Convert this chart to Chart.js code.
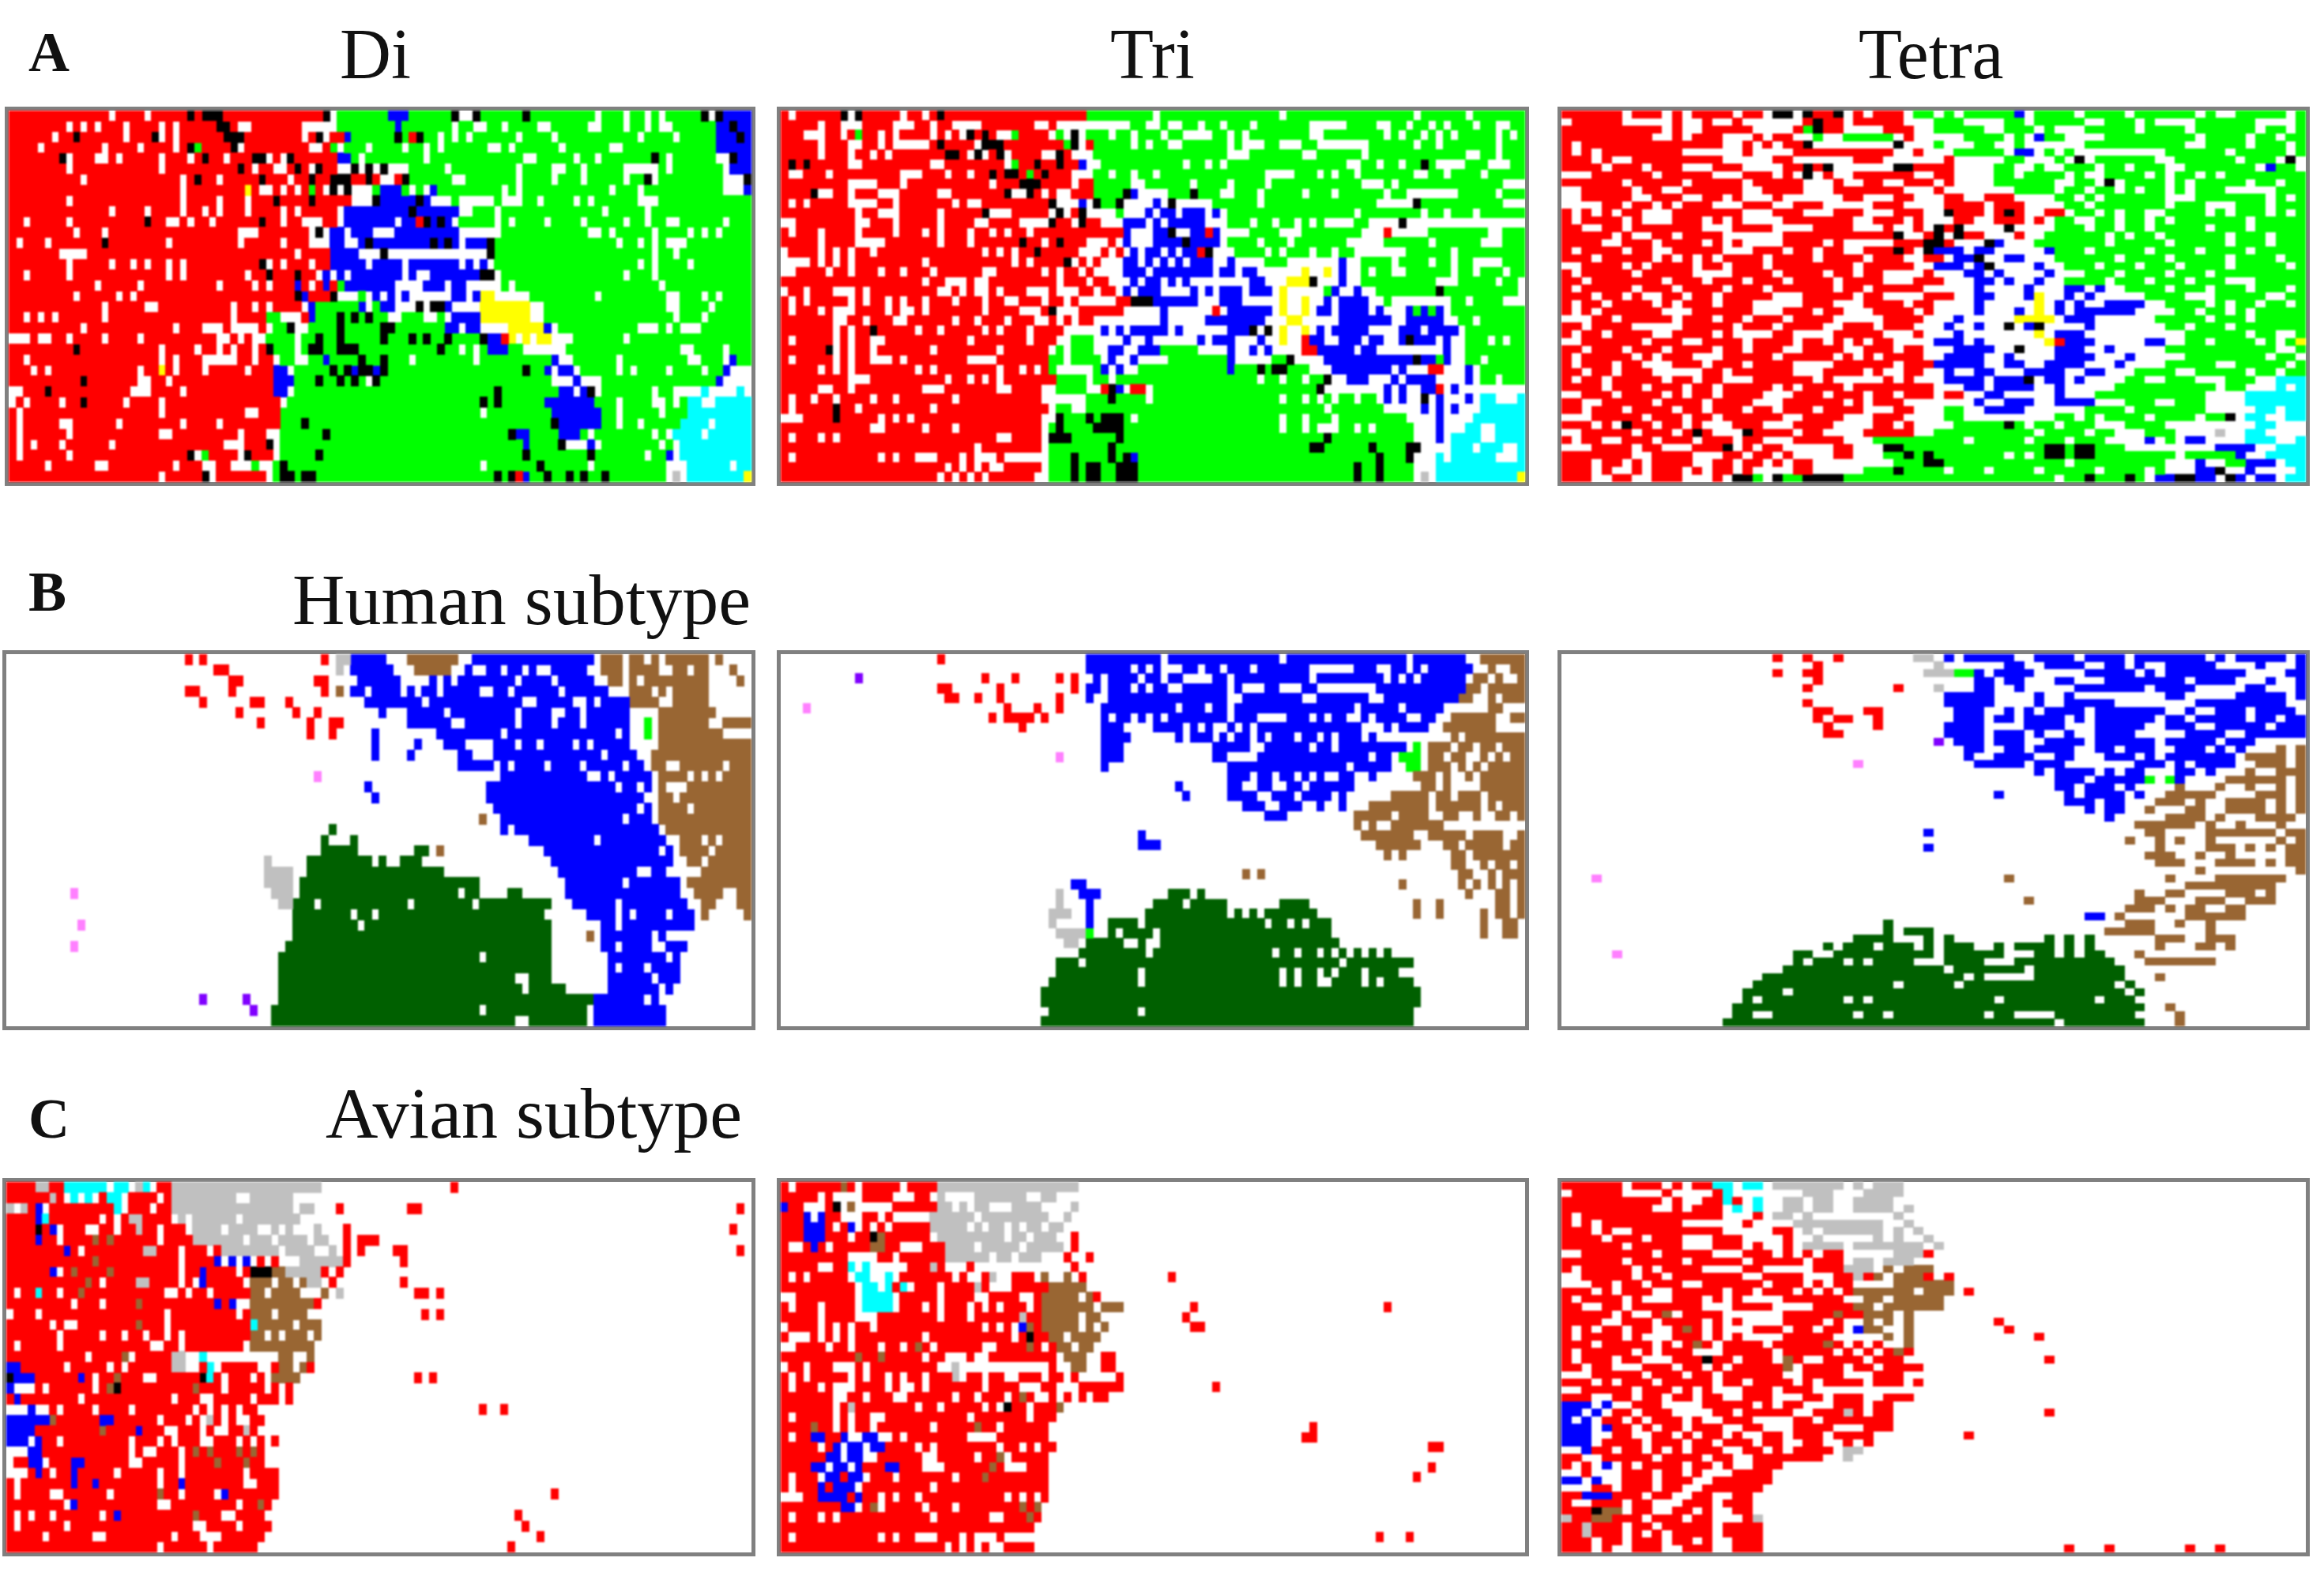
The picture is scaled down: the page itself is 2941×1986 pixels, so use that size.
<!DOCTYPE html>
<html>
<head>
<meta charset="utf-8">
<title>SOM maps</title>
<script src="https://cdn.jsdelivr.net/npm/chart.js@4/dist/chart.umd.min.js"></script>
<style>
    body { margin: 0; background: #fff; }
    #page { position: relative; width: 2941px; height: 1986px; overflow: hidden; }
    .map { position: absolute; box-sizing: border-box; border: 5px solid #808080; background: #fff; }
    .map canvas { display: block; filter: blur(0.8px); }
    .label { position: absolute; font-family: "Liberation Serif", serif; color: #111; white-space: nowrap; line-height: 1; }
    .letter { font-weight: bold; font-size: 72px; }
    .title { font-size: 90px; }
    .subtitle { font-size: 92px; }
</style>
</head>
<body>
<div id="page"></div>
<script>
// each row: "<col><letter>" starts a run, an upper case letter is one single cell on top of it
const mapDiA = [
"0r 14W 19W 25K 27k 30r 44K 45W 46g 53b 56g 62K 63W 64W 65K 72K 82W 86W 89W 91W 97K 98W 99K 100b",
"0r 8W 10W 12W 16W 21W 23W 29k 31r 32w 34r 41w 46g 54B 62W 65W 66W 69W 74W 75W 81W 82W 86W 89W 91W 92W 99b 101K",
"0r 6W 9K 16W 20K 21W 23W 30k 33r 41W 43K 44W 46R 47B 48g 54K 56R 57K 60W 62W 64W 71W 76W 88W 93W 99b 102K",
"0r 4W 13W 18W 23W 25K 26G 31K 32W 42W 43W 45g 46W 50W 55W 58W 60W 67W 68W 70W 77W 84W 85W 99b",
"0r 7K 8W 12W 13W 15W 21W 25W 27K 30W 34k 36W 37r 38W 39K 46b 48g 49W 58W 72W 73W 79W 82W 90K 92W 99w 101K 102b",
"0r 8W 21W 32K 34W 37W 38W 40K 42W 43K 46W 47W 48K 49W 50K 51W 52K 53w 56g 61W 71W 76W 77W 80W 86w 91g 92W 100W 101b",
"0r 10W 24W 26K 29W 35K 39W 42K 45k 48r 50K 51R 52W 53W 55K 56g 62W 63W 71W 76W 80W 86W 89K 90W 100w 103K",
"0r 24W 33Y 35W 36W 38W 40W 42G 44W 45K 46W 47K 48w 51G 52b 55g 56W 58W 59B 69W 71W 84W 88W 100w 103B",
"0r 8W 24W 29W 33W 37K 42K 48w 51K 52b 57K 58b 59w 62g 63w 68g 69w 72g 74W 79W 81W 88w 91g",
"0r 14W 19W 24W 27W 29W 33W 38W 40W 46W 47b 56K 57b 63W 64W 65g 68W 83W 89W",
"0r 2W 8W 19K 22W 23W 25W 28W 35K 38W 41w 44r 46W 47b 54W 57R 58K 60K 62W 63g 68W 70W 75W 80W 86W 89W 92W 93W 100W",
"0r 9W 13W 32w 35r 42W 43K 44W 45b 47W 51w 54b 63w 69g 81W 82W 84W 90W 95W 97W 99W",
"0r 1W 5W 13K 22W 32W 38W 42w 45b 47w 49b 50K 59K 61K 63W 67K 68g 85W 88W 90W 92W 93W 94W",
"0r 7W 8W 9W 10W 40W 45b 49w 51W 52K 53W 54W 56W 59W 63W 67K 68g 90W 93W",
"0r 8W 14W 17W 19W 22W 24W 35K 36W 38W 42W 45b 50W 55W 63W 65W 67W 68g 88W 90W 95W",
"0r 2W 8W 22W 24W 33W 36K 40K 43W 44B 45W 46b 47W 55W 57W 58W 66K 67K 68W 69g 86W 90W",
"0r 12W 18W 29W 34W 36W 40B 42W 44B 46G 47b 54w 58b 61W 64w 69g 70W 91W",
"0r 9W 15W 17W 40K 41B 44r 45K 46w 49G 50W 51B 52W 53B 54W 55B 56w 62b 64W 65B 66y 68w 73g 82W 92W 93W 97W 99W",
"0r 13W 19W 20W 31W 34W 36W 41W 42B 43g 49B 50W 52b 54w 57K 58w 59k 61b 62w 66y 73w 75g 92W 93W 98W",
"0r 2W 4W 6W 13W 31W 36g 38w 41r 42B 43g 46K 48K 50K 52G 53W 54W 58W 59W 61W 62b 66y 73w 75g 93W 97W",
"0r 10W 23W 27w 30r 31w 35r 36W 37g 39K 40w 42g 46K 52k 54g 61b 63W 64b 66w 70y 75B 76W 77g 88w 91g 92W 94w 97g",
"0w 3r 4w 6r 8W 13W 18W 29W 30W 32W 34W 35W 36g 40W 43K 46K 52K 56K 58K 61K 66K 67b 69R 70y 71W 73W 76w 79g 86W",
"0r 9K 21W 26W 29W 31W 34W 36K 37g 40W 42k 44g 46k 49g 60K 63W 65W 67b 70g 72w 78g 94W 95W 100W",
"0r 2W 21W 23W 27w 32r 34W 37W 38g 40W 41W 44B 49K 52K 56W 65W 76B 77W 78W 85W 95W 96W 100W 101B",
"0r 3W 5W 18W 21Y 23W 27W 33W 37b 39W 40g 45K 47K 48B 49K 50K 51B 52K 72K 75B 76W 77B 78B 79W 85W 87W 92W 97W 100B 101w",
"0r 10K 18W 19W 22W 37b 40g 43K 46K 48K 50W 51K 76w 79B 80w 83g 99B 100w",
"0w 2r 5K 17w 20r 24W 37b 39W 40g 68K 77b 79W 80b 81K 82W 83g 90W 93w 97C 98w 102C 103W",
"0r 0W 2W 7W 10K 16W 21W 38W 39g 66K 68K 75b 82g 85W 90W 91W 93W 95c 97w 99c",
"0r 1W 21W 33W 34W 38g 66W 76b 83g 85W 91W 95c",
"0r 1W 7W 8W 15W 24W 29W 38g 41K 76K 77b 83g 85W 88W 94c 98W",
"0r 1W 8W 21w 23r 32W 36w 38g 44K 70K 71b 73g 77b 80g 81W 90W 92W 93c 97W",
"0r 1W 3W 7W 14W 30w 33r 36K 37W 38g 72B 77K 78w 81B 82W 83g 91W 93W 94c",
"0r 1W 8W 25K 26W 27G 32W 33K 37W 38g 43K 72K 81K 89W 92B 93W 94c",
"0r 5W 12W 13W 23W 27w 29r 31w 34G 35w 37g 38K 66W 74K 81W 92w 95c 101W",
"0r 21W 27K 28W 36W 37g 38k 40g 41k 43g 68K 70K 71R 72B 75K 78K 80K 83K 92w 93S 94W 95c 103Y"
];
const mapTriA = [
"0r 1W 8K 9W 10K 16W 19W 21K 41g 50W 67W 85W 92W",
"0r 5W 8w 11r 15w 18r 20W 23w 27r 34W 35W 37w 47g 49W 50W 52W 53W 56W 59W 63W 71w 76g 80W 81W 84W 87W 89W 93W 96W 97W",
"0r 3w 6r 8W 10G 13W 15W 20W 22W 24W 25K 27K 29W 30W 31G 36W 37G 38W 39K 40W 41g 44W 47W 51W 54w 58g 60W 62W 71W 72W 81W 83W 86W 88W 90W 96W 98W",
"0r 5W 9W 10W 13W 15W 16w 20r 21K 26W 27k 30r 38G 39K 40W 42g 47W 49W 52W 53W 60W 62w 65g 67w 70g 72w 79g 85W 88W 96W",
"0r 5W 9W 12W 14W 22k 24r 25W 26K 27W 29K 30W 35W 36W 37K 39w 42g 60w 63g 70W 71W 78W 92W 93W 96W",
"0r 1K 3K 9W 10W 20W 21W 30W 31G 34K 37K 40B 41W 42W 43g 54W 57W 59W 76W 77W 80W 83W 86K 88w 92g 95w 98g",
"0r 1w 3r 6W 16w 19r 22W 25W 28K 30k 32r 33G 35K 39w 42g 44W 47W 50W 65w 69g 72W 74W 77W 85W 86W 89W 94W",
"0r 9w 13r 16W 28W 32k 35r 39W 42g 47W 48W 55W 60W 65W 78w 81g 82W 97w",
"0r 4K 5W 6W 9W 13w 16r 21W 22W 30K 31w 33K 34r 35W 37w 39r 42g 46K 47B 48w 52g 55K 59W 60W 64W 70W 74W 81W 84w 91g 96W",
"0r 1W 3W 9w 13r 15W 23W 25w 27r 36K 37w 40B 42K 43g 45K 46w 50B 51W 52K 53w 58g 64W 80w 85K 86g 97w",
"0r 10W 13w 16r 21W 27K 28w 31r 36W 37K 38W 40K 41w 45G 46w 49B 50w 51b 53W 54b 57W 58B 59w 60g 77W 86W 89W 93W",
"0w 2r 10W 11W 15W 21W 26W 27W 32w 36K 37r 39W 40K 43w 46b 49W 50B 51W 52b 57w 60g 63W 66W 69W 71W 73w 77g 79w 83K 84W 85W 93W",
"0r 1W 5W 10W 15W 19W 21W 25W 28W 30W 33W 46b 47w 49W 50b 52K 53w 55b 57R 58B 59w 60g 60W 61W 62W 67W 68W 69W 78w 81R 82w 87g 95W 96W",
"0r 5W 10w 14r 21W 25W 32K 35W 37K 41w 44r 45W 46B 47w 50b 54K 55b 59w 60g 64W 68W 76w 81g 87W 94w 97g",
"0r 0W 5W 7W 9W 12W 27W 29W 31W 34K 40w 43r 44W 46W 47B 48W 49b 51W 52B 53W 54b 56R 57K 58w 61g 65W 67W 71W 74W 77w 84g 90W",
"0r 0W 1w 4r 5W 7W 9W 19W 31W 33W 38K 39W 41W 43w 46b 48w 49B 50w 51B 52W 53B 54w 55b 58w 60B 61w 65g 68w 75B 76w 78g 82W 87W 90W 93w 97g",
"0w 2r 6W 9W 13W 16W 20W 27w 29r 35W 37W 40W 42w 46b 49W 50b 58w 59b 61w 62b 64w 70Y 73Y 75B 76w 78g 79W 82W 83W 90W 93W 97W",
"0r 19W 22w 25r 26W 27W 37W 41W 44w 47B 48w 49b 51W 52B 53W 54B 55w 63b 65w 68y 71K 72w 75B 76w 78g 88w 91g 96W 99W",
"0r 0W 3W 7w 10r 11W 21w 23r 24W 26W 27W 29W 33w 36r 37w 40r 42W 45w 46B 47W 48b 51w 55B 56w 57B 58w 59b 62w 63b 66w 67Y 68w 73G 74B 75w 77B 78w 80g 88K 99W",
"0r 1W 3W 9W 11W 14W 16W 19W 23W 27W 30W 31W 35W 38W 40w 45r 47k 50b 56w 59b 62w 67Y 68w 70Y 71w 73B 74w 75b 79w 81G 82w 90g 92W 97w 100g",
"0r 1W 5W 7w 10r 14W 16W 17W 19W 27W 32w 35r 36K 37w 40r 46w 51B 52w 58R 59w 60b 66w 67Y 68w 70Y 71w 72b 74w 75b 79w 80B 81w 84B 85g 86B 87g 88B 89w 90g",
"0r 7w 9r 11W 15w 17r 23W 26W 30W 34w 36r 37W 39W 42w 51B 52w 57B 58b 65w 68y 70w 75b 79B 80b 82w 84b 89w 91g 93W",
"0r 7W 9W 12K 18W 21W 27W 29W 33W 38w 43B 44W 45B 46w 47b 52w 53B 54w 60b 63K 64W 65K 66w 67Y 68w 70Y 71w 72B 73w 74B 75b 79w 83b 86W 87b 91w 92g",
"0r 1W 7W 9W 12w 14r 25W 33W 37w 39g 42w 46B 48w 49B 50w 56B 57w 58b 61w 64B 65w 67Y 68w 70r 71b 73w 75b 78w 79b 81w 83b 84K 85b 88w 89B 90w 92g 95W 97W",
"0r 6K 7W 9W 12W 20W 29W 36w 37G 38w 39g 42w 44b 46w 48b 51g 55g 56w 60B 61w 63B 64w 65B 66w 70r 72b 77w 78b 80w 89B 90w 92g",
"0r 1W 7W 9W 12w 15r 16W 25w 29r 36g 38w 39g 43w 44B 45w 47B 48w 52g 56g 60B 61w 66g 68K 69w 73b 85K 86b 88G 89B 90w 92g 94W",
"0r 5W 7W 9W 18W 20W 29W 32W 34W 36G 37w 42g 43B 44w 45B 46w 48g 60B 64K 66k 68g 71w 74b 82W 84W 85w 87r 89w 92B 93w 94g",
"0r 9w 12r 22W 25W 27W 29W 37g 41W 44W 64W 67W 70W 73K 74w 76b 79w 82B 83w 84b 88w 92B 93w 94g 96W",
"0r 5w 7r 9W 19w 22r 29W 30W 35w 37g 41w 43r 44K 45B 46W 49W 50g 72K 73w 81B 82w 83B 84w 86b 88R 89w 90B 91w",
"0r 1W 4W 7W 12W 15W 23W 35w 41g 44K 49W 67W 70W 72W 74W 77W 80w 81B 82W 83B 84w 86K 87w 88B 89w 92B 93w 94c 96w 99C",
"0r 1W 7K 10W 20W 36W 37g 39w 41g 73W 81w 86B 87w 88B 89w 90B 91w 94c",
"0w 3r 7K 13W 15W 17W 35W 36w 37K 38g 41K 43k 46g 47W 67W 70W 74W 84w 88B 89w 93c",
"0r 12w 14r 19W 23W 35w 36g 37K 42k 46g 67W 70W 72w 75g 77W 79W 85w 88B 89w 92c 94w 96c",
"0r 1W 5W 7W 29w 31r 35w 36k 39g 45K 73K 85w 88B 89w 90c 94w 96c",
"0r 26W 35w 36g 44K 71k 73g 79K 84k 86w 90c 93W 94c 97w 99c",
"0r 1W 13W 15W 18w 21r 24W 26w 29r 30w 36g 39K 44K 46K 47B 80K 84K 85w 88C 89W 90c 96w 99c",
"0r 22W 24W 26W 28W 29W 35w 36g 39K 41k 43g 45k 48g 77K 80K 85w 88c",
"0r 21W 23W 25W 27W 34w 36g 39K 41k 43g 45k 48g 77K 80K 85w 86S 87w 88c 99Y"
];
const mapTetraA = [
"0r 6W 10W 12W 17W 20W 21K 22K 23W 24K 27K 28W 30W 34w 35g 37W 39W 45B 46W 51W 56W 63W 65W 66W 72W",
"0r 0W 6w 11R 12w 14r 15w 17r 18w 24R 25K 26r 28w 29r 34w 37g 40w 44g 46w 47g 52w 54g 57W 59w 63g 69w 73g",
"0r 10W 12w 14r 19W 20w 23r 24G 25K 26r 28w 32r 35w 37g 42w 44g 47W 49w 52g 57W 62W 69W 72W 73g",
"0r 9w 11r 12W 16W 17w 19R 20W 21r 23w 25G 26w 28g 33w 34R 35w 40g 44W 46w 47B 48g 50w 54g 63W 68W 71W",
"0r 1W 16w 18R 19w 20R 21w 22r 24K 25w 33r 33K 34w 37G 38w 41g 43w 45G 46w 52g 62w 64g 68W 72W",
"0r 1W 3W 12w 18r 19w 23r 33w 35R 36w 39g 44w 45b 47w 48G 49W 50G 51w 60g 66W 72W",
"0r 3W 5w 7r 16w 21r 23w 29R 30r 32w 33r 33w 38R 39w 44g 46w 49G 50W 51K 52w 53g 59w 61g 67W 71W 72K 73w",
"0r 4W 8W 12w 15r 18w 22r 24K 25r 26K 27w 33K 34K 35r 38R 39w 43g 45w 47G 48w 50g 53W 56W 60w 62g 69W 70B 71g 73W",
"0w 3r 9W 15w 18r 21W 23W 25W 27w 29r 24k 26r 28W 32r 34R 35w 37r 39w 43g 45w 46g 50W 52w 54g 58W 60W 63W 65W",
"0r 6W 12W 18W 24W 25w 27R 30r 32w 34r 37w 38R 40w 43g 49w 51g 53W 54K 55W 60W 62W 68W 71W",
"0w 2r 7W 10W 11W 18w 20r 24w 27r 30R 31R 32R 34w 37R 39w 45g 49W 52W 55W 57W 60W 62W 66w 71g",
"0w 2r 7w 9r 12w 14r 16W 18w 21R 23w 28r 30w 33r 35w 38r 40w 42r 44r 45w 49g 51W 53W 60w 63g 70W 72W",
"0w 4r 6W 9W 11W 15w 18r 21w 23r 26W 27w 31r 34w 38r 42W 46w 50g 52w 53g 60W 64w 67g 70W",
"0r 1W 3W 5W 8w 11r 18W 19w 21r 24w 27r 30w 33r 36w 38K 39r 42W 43R 44K 46w 48r 50w 51g 53W 55W 58w 60g 64W 66W 70W 72W",
"0r 1W 6W 8w 11r 14W 16W 18w 22r 29w 31r 34W 36w 39r 41w 43r 46w 47R 48w 49g 51w 53g 55W 58W 60W 68W",
"0r 2w 4r 6W 14w 17r 21w 25r 29w 32R 33w 35r 36w 37K 38r 39K 40w 44K 45w 49g 52W 55W 58W 64W 68W",
"0r 5W 7w 9r 11W 16W 17w 22r 33K 34w 36R 37K 39K 40r 42w 45R 46w 48g 54W 56W 59W 66W 70W",
"0r 4w 6r 9W 14W 16W 18w 22r 26W 28w 31r 31w 33R 34r 36K 37K 39w 42K 43b 44w 47g 54W 60W 66W 70W",
"0r 1W 6W 9w 11r 16w 19r 22W 25W 28w 30r 33K 34r 35W 36K 37b 40w 41b 43w 48b 49g 52W 58W 63W 68W",
"0r 3W 9W 11W 13W 15W 20W 25w 26r 30W 34w 36r 38w 39b 41K 42w 44b 46w 49g 55W 60W 66W 71W",
"0w 2r 6W 8W 13W 16W 20W 29W 30r 35w 37b 40W 42K 43w 47B 48w 50g 53W 57W 61W 66W 72W",
"0r 1W 7W 13w 17r 21W 26W 29W 32w 36r 37W 38w 40b 42w 43B 45w 48B 50w 52g 55W 60W 64W",
"0r 2W 10W 14W 18W 22W 27W 32w 35r 38w 41b 43w 44B 46w 47B 48w 50g 54W 58W 62W 66w 69g",
"0r 1W 7W 11W 16W 20W 27W 30W 36W 37w 41B 42w 46B 48w 50b 52w 53B 54w 56g 60W 64W 68W 72W",
"0r 3W 6W 8w 10r 12W 15W 21w 24r 29W 32w 36r 39w 41b 43w 46B 47Y 48w 50B 52B 54w 58g 62w 65g 70W 71W",
"0r 1W 4W 9W 11W 15W 19w 24r 27w 30r 34W 36R 37w 39W 41B 44w 47Y 49B 50r 50w 51B 54B 55b 58w 60g 64W 66W 69W 72W",
"0r 1W 3W 10w 13r 19w 22r 25W 28w 31r 35W 37w 41B 43w 45B 46w 47Y 49B 50w 51b 54b 57w 61g 63W 66W 68W",
"0w 3r 5W 11W 15W 18W 22W 27w 32R 33r 36w 37w 39B 41w 45Y 46Y 47Y 48Y 49w 50b 53w 59g 64W 68W",
"0r 2W 7w 12r 17W 21W 26w 28r 31W 35w 38w 38B 40w 41B 43w 44K 45w 47K 48w 46b 48w 52B 54w 60g 62W 66W",
"0r 1W 4W 9W 10W 15W 17w 21r 23w 27r 32w 35r 36w 39B 40w 47Y 48w 49b 52w 57w 62g 68W 71w 73g",
"0w 2r 8W 12w 14r 18W 23W 26W 28W 30W 33W 34r 34w 37b 40w 41B 44w 48Y 49R 50b 52B 53w 58b 60w 62g 64W 69W 71W 73Y",
"0r 2W 6W 10W 15W 18W 22w 24r 28w 30r 33W 36w 39b 42B 43w 45K 47w 49B 50b 52w 54B 56w 60g 71W 72W",
"0r 1W 7W 9W 13w 16r 21W 27W 29W 31W 36w 38b 41B 42w 44B 49b 51B 53w 56B 57w 62g 70W 73W",
"0r 1W 5W 8w 11r 14W 18W 23w 27r 33W 35r 37w 37b 40B 42w 44b 46w 48b 52w 55B 57w 60g 65w 67g 72W",
"0r 2W 5W 9W 10w 14r 16W 23w 26r 30W 32w 34r 36w 38b 39w 41b 43w 46b 50w 52b 54w 57g 61w 63g 68W 71W",
"0r 1W 4W 10W 13W 16w 19r 25W 27w 32r 33W 35w 38b 42W 45b 46K 47w 48b 50w 51B 53w 56g 58w 60g 63w 66g 69w 71c",
"0r 4W 8W 12W 15W 21W 23W 28W 34r 37w 40b 42w 43B 44b 47w 49B 51w 55g 60g 65w 66g 68w 71c 72W",
"0w 2r 5W 10W 12W 15W 20w 23r 26W 30W 33W 37w 38r 40w 42b 44w 49B 51w 53g 60g 64w 66w 68c",
"0r 2w 4r 9W 14W 19w 22r 28W 30W 34w 39w 41B 44b 47w 49b 53w 56g 59w 61g 64w 68c 72c",
"0r 2W 6W 11W 14W 18W 21W 25W 30w 33r 35w 38g 40w 42b 46w 48w 52g 56W 60g 64w 69c 71W",
"0w 3r 8W 12W 15W 22w 24r 28w 31r 34w 36w 38g 40w 46w 49g 51W 53W 58W 63W 66K 67w 68c 70w 72c",
"0r 3W 5W 6K 9W 12W 14w 17r 20w 23r 27w 31r 33W 35w 39g 44K 46W 49W 53w 56g 60w 68W 69c 71w",
"0w 2r 7W 11W 13K 15w 18K 19r 23W 26w 30r 35w 37g 47W 52W 55w 58g 61w 65S 66w 68c 70w",
"0r 1W 4w 6r 9W 13W 17W 20w 23r 28w 31g 40W 46W 50W 54w 58B 59w 60G 62b 64w 68c 71w 73c",
"0w 3r 7W 10w 13r 16K 17W 19W 22w 27r 29w 30w 32k 34g 48K 49K 51K 52K 56w 60W 65b 69w 71c",
"0r 7w 9r 13w 16r 18W 21W 23w 25W 27r 29w 32g 34K 36K 38g 44W 46W 48k 50g 51k 53g 61W 67b 68w 70c 73c",
"0r 3W 6W 8W 13w 15r 17W 20W 22W 25w 33g 36K 37K 50W 60w 63B 64w 66g 68b 70B 71w 72c",
"0r 3W 5W 6W 8W 12W 14W 17W 19w 23r 25w 30g 33K 38W 42W 47W 53W 58W 60w 63b 65k 66w 68B 70w 72W 73c",
"0r 3w 5r 7W 8W 12w 15r 16w 17k 19g 20W 21K 22g 24k 28g 49W 52K 56K 58w 59b 61k 63b 65w 66K 67B 68w 69b 71w 72c"
];
const mapDiB = [
"25R 27R 44R 46s 48b 53w 56n 63w 65b 82w 83n 86w 87n 89w 90N 92n 98w 99N",
"29r 31w 46S 48b 54w 57n 62w 64b 65W 66W 69W 72W 74W 75W 81w 83n 86w 87n 91W 92w 93n 95W 96n 98w 101N",
"31r 33w 43r 45w 49b 55w 59B 61B 63b 71W 76W 82w 84n 86w 87n 88W 92n 98w 102N",
"25r 27w 31R 44R 46N 48b 50W 55W 57W 60W 66W 67W 70W 77W 84w 87n 90W 92W 98w",
"27R 34r 36w 39R 50b 58W 72W 73W 79W 80W 82W 87n 91W 92W 93n 98w",
"32R 40R 43R 52B 56b 61W 71W 76W 77W 80W 87w 91n 99w",
"35R 42R 45r 47w 56b 62W 63W 71W 76W 80W 87w 89G 91n 98W 99W",
"42R 45R 51B 60b 69W 85W 87w 89G 91n 100w",
"51B 57B 61b 64w 68b 71W 74W 79W 81W 87w 91n",
"51B 56B 63b 65w 68b 83W 88w 90n",
"63b 68w 69b 70W 75W 80W 86W 89w 90n 92W 93W 100W",
"43M 69b 81W 82W 84W 90w 91n 95W 97W 99W",
"50B 67b 85W 88W 90w 91n 92w 95n",
"51B 67b 89w 91n 93W",
"68b 88W 90w 91n 95W",
"66N 69b 86W 90w 91n",
"45D 69B 71b 91w 92n",
"44D 48D 73b 82W 92w 94n 97W 99W",
"44d 49w 57d 59w 60N 75b 91W 93w 94n 98W",
"36S 42d 51w 52D 55d 58w 76b 93w 95n 97W 98n",
"36s 40w 42d 61w 77b 88W 89W 92W 93w 97n",
"36s 40w 41d 66w 78b 86W 94w 95n",
"9M 37s 40w 41d 63W 66w 70d 72w 78b 94w 96n 100w 102n",
"38s 40d 43W 56W 65W 76w 79b 85W 95w 97n 99w 102n",
"40d 48W 51W 75W 76w 81b 85W 87W 92W 96w 97N 103N",
"10M 40d 49W 76w 83b 85W 96w",
"40d 76w 81N 83b 90W 92W 93w",
"9M 39d 76w 83b 85W 90w 92b 95w",
"38d 66W 76w 84b 92W 94w",
"38d 76w 84b 85W 89W 94w",
"38d 71W 72W 76w 84b 90W 94w",
"38d 72W 78w 84b 91w 92B 93w",
"27P 33P 38d 82b 89W 91w",
"34P 37d 66W 81w 82b 92w",
"37d 71W 72W 81w 82b 92w"
];
const mapTriB = [
"21R 41b 51W 67W 84W 92w 94n",
"41b 47w 48b 49W 51W 52W 53W 56W 59W 63W 71w 77b 80W 81W 84W 86W 93w 95n 96W 97W",
"10P 27R 31R 37R 39R 42B 44b 48W 51W 54w 58b 60W 71W 81W 83W 85W 92w 93n 95w 96n 97W 98W",
"21r 23w 29R 39R 41b 43w 44b 47W 49W 52W 53W 60W 62w 65b 67w 70b 72w 80b 92w 92n 94w 95n",
"22r 24w 26R 29R 37R 41B 44b 60w 62b 70W 71W 79W 80W 91w 91n 93w 95n 96W",
"3M 30R 34R 37R 43b 53W 57W 60W 77W 83W 89w 95n 97w 100n",
"28R 30R 31R 32R 33R 35R 43b 44W 47W 49W 51W 60W 64w 68b 71W 73W 76W 77W 79W 84W 85W 88w 90n 96W 97W 98n",
"32R 43b 46w 48W 50b 54W 56W 58W 59W 61W 63W 78w 81b 82W 87w 89n 96w",
"43b 47w 53B 55b 58W 60W 63W 65W 69W 72W 74W 78W 80w 82W 87w 90n 91W",
"43b 46w 58b 63W 64W 71W 74W 78b 84w 85G 86w 87n 90W 92n 93W 94n 96W",
"37M 43b 46w 58b 60w 64b 79W 82w 83g 86w 87n 89W 92W 93W 95W 97W",
"43B 46w 60b 76W 82w 84g 86w 87n 90W 92W 94W 96n",
"60b 63w 64b 66W 69W 71W 73W 74W 77W 78w 79b 80w 85n 88W 90W 91W 93W 95n",
"53B 60b 62W 63W 66W 67W 70W 77w 79w 86n 88W 90W 91w 94n",
"54B 60b 64w 66b 69W 71b 74W 76w 82n 87w 88n 90W 91n 94w 95n",
"62b 65w 67b 70w 72b 73w 75B 76w 79n 87w 88n 94W 96w 97n",
"65b 68w 76w 77n 82w 83n 87w 89n 91W 92W 94w 96n 98W",
"77N 79n 80W 81W 83n 89w 92W 96W 98W",
"48B 78n 85w 87n 92w 93n 97W 98w 99n",
"48b 51w 80n 86w 89n 91W 97w 98n 100W",
"81N 83N 90n 92W",
"90n 92W 93W 95W 98W",
"62N 64N 91n 93w 95n 96W 98n",
"39b 41w 40B 83N 91n 92W 94W 96W 98W",
"37S 40b 43w 52d 55w 56D 92N 94W 96n 98W",
"37S 41B 42w 50d 54w 55d 60w 67d 71w 85N 88N 93W 94W 96n 98W 100n",
"36s 39w 41B 42w 49d 60w 61D 62w 63D 64w 65d 72w 85N 88N 94n 95w 96n 98W",
"36S 40w 41B 44d 48w 49d 65W 68W 70W 74w 94N 96w 97n 99W",
"37s 41G 42w 44d 45w 46D 46d 50W 74w 94N 97n 99w",
"38s 40w 41d 46w 48d 49W 50W 75w",
"40d 49W 66W 69W 72W 74W 76W 78W 80W 82w",
"37d 40w 41d 75W 82d 85w",
"37d 48W 67W 69W 72W 74W 78W 83w",
"36d 48W 67W 69W 72w 74d 78W 80W 85w",
"35d 86w",
"35d 86w",
"36d 48W 85w",
"35d 85w"
];
const mapTetraB = [
"21R 24R 27R 35s 37w 38B 40b 45w 47b 51w 52b 56w 57b 64w 65B 67b 72w 73B",
"25R 37S 44b 46w 48b 52w 54b 56w 57b 58W 59W 62b 65w 69B 73B",
"21R 24r 26w 36s 39G 40G 41B 42w 43b 47w 52b 57W 59W 61b 68w 72b",
"25R 41b 43w 44B 45B 46w 49b 51w 54b 62w 63B 64b 67w 70B 73B",
"24R 33R 37S 41b 43w 45B 47w 51b 58w 59b 63w 68b 70w 73B",
"38b 43w 47B 49w 50B 52w 59w 60b 62w 67b 70b 72w 73B",
"24R 38b 43w 47B 49w 50B 51b 54b 55w 62w 63b 67b 72w",
"25R 26R 30r 32w 39b 42w 44B 46B 47w 48b 52w 53b 58b 60w 62B 65b 68W 71b 73w",
"25R 27r 29w 31R 32w 39b 42w 43b 45W 50W 52W 59W 61b 62W 65b 68W 71W",
"26R 31R 32w 38b 42w 46b 50w 53b 58w 60b 63w 65b 70W 72b",
"26r 28w 38b 42w 43b 46w 47b 48w 50b 51w 53b 57w 62b 66w 68b 73B",
"37P 39b 42w 43B 44b 46w 48b 52w 53b 59w 60b 65W 69w 72w",
"40b 42w 44b 46w 47b 51w 53b 55w 56b 59w 61b 64W 66W 68w 71n 72w 73N",
"40B 41w 43b 47w 49b 51w 54b 56B 57w 58B 59w 60b 67w 68n 72w 73N",
"29M 41b 46w 47b 50w 57b 60w 61b 62w 63b 67w 69n 72w 73N",
"47B 49b 53w 54b 55w 56b 58w 61b 62B 63w 64B 65w 68N 71n",
"49b 52w 53b 58w 58G 60G 61B 63w 66n 72w 73N",
"49b 51w 52b 55W 57w 61N 65N 68N 71N 73N",
"43B 50b 51w 52b 56W 57b 58w 60n 65w 69n 72w 73N",
"50b 53w 54b 56w 59n 62w 63N 66n 70w 71N 73N",
"52B 53w 54b 56w 58N 62n 64w 66n 70w 71N 73N",
"54B 60N 61n 64w 65N 69n 73w",
"57n 63w 64N 67N 71N",
"36B 58n 60w 64n 71w 72n",
"56N 59N 61N 64N 71N 73N",
"36B 59N 64n 67w 68N 70N 72n",
"58n 61w 63N 66N 72n",
"59n 62w 65n 69w 70N 72n",
"63N 73N",
"3M 44N 60N 65n 72w",
"62n 71w",
"57N 60n 62w 66n 69w 70N",
"46N 57n 60w 63N 64n 66w 68n 71w",
"56n 59w 60N 62n 64w 66n 68w",
"52b 54w 55N 62n 65w 65n 68w",
"32D 56N 57N 58N 61N 64N",
"32D 34d 37w 54n 58w 58N 64N",
"29d 33w 36D 38D 48D 50D 52D 59N 60n 62w 64N 65n 67w",
"26D 28d 31w 32d 35w 36D 38d 41w 43D 45d 49w 50D 52D 59N 63n 65w 66N",
"5M 23d 25w 27d 35w 35d 37w 38d 43w 43D 47w 47d 49w 50D 52d 54w 57N",
"23d 24W 28W 30W 35w 38d 42w 45d 55w 58n 65w",
"22d 38W 46W 56w",
"20d 40W 42w 46d 46W 56w 59N",
"19d 33W 39W 55w 56D 57w",
"18d 22W 56w 57D 58w",
"18d 19W 28W 30W 43W 53W 57w",
"17d 58w 60N",
"17d 19w 21d 29W 32W 42W 45w 49d 57W 58w 61N",
"16d 49W 58w 61N"
];
const mapDiC = [
"0r 4s 6r 8c 14W 15c 17W 18S 19C 20W 21r 23s 44w 62R",
"0r 6S 8W 9C 10W 11C 12W 13r 14c 16W 17r 21W 23s 32W 33W 40w 45w",
"0S 2S 3r 4B 5W 6r 15C 16W 20W 23s 40w 41S 42S 44w 46R 56r 58w 102R",
"0r 4B 5C 13W 15W 17S 18S 23W 24s 25W 32W 41w 101W",
"0r 4K 6B 7W 11W 12W 15W 18S 21W 25W 26s 30W 35w 37S 39S 43s 44w 47R 101R",
"0r 4B 7W 12N 14N 21W 25r 26s 33W 37w 38s 42W 43s 45w 47R 49R 50R 51R",
"0r 8B 10W 19S 20S 24W 28W 29r 30s 38W 43W 44W 45S 46w 47R 49R 54R 55R 102R",
"0r 12N 24W 28r 29B 30w 31B 32w 33B 34w 35r 36w 37R 38w 41s 47w 47R 55R",
"0r 6B 7W 9N 14N 24W 27b 28r 32W 34k 37n 39s 44R 45w 46R 47w",
"0r 11N 13W 18S 19S 24W 26W 27B 29r 33W 34n 37W 38n 40W 42s 44w 45R 55R",
"0r 1W 4C 7W 10N 22w 24r 25w 26r 28W 34n 36W 38n 41w 44N 45w 46S 47w 57r 59w 60R",
"0r 9W 13W 18N 29B 31B 32w 34n 43R 44w",
"0r 0W 4W 22W 32w 33r 34n 37W 42w 58R 60R",
"0r 6W 8w 10r 18N 22W 34R 34C 35n 40W 42n 44w",
"0r 7W 13W 16W 19W 22W 24W 34n 36W 38W 42W 44w",
"0r 1W 7W 20w 22r 24W 33W 34n 43w",
"0r 11W 16N 17W 23s 25w 27C 28w 34W 35W 37W 38n 40W 41W 43w",
"0b 2r 8W 14W 16W 23s 25w 27r 28C 29w 30r 33r 35W 36W 38n 40W 41n 42R 43w",
"0K 1b 4r 10B 12W 15N 19w 21r 27K 28C 29r 30W 34W 36W 37n 41w 57R 59R",
"0r 0B 1W 2W 3W 5W 12W 14N 15K 26N 28r 30W 36W 38w 39r 40W 41w",
"0r 1B 10W 23W 27w 29r 34W 38w 39R",
"0w 3B 4w 6b 6r 7W 12W 17W 26W 28W 29r 30W 32W 35W 36w 66R 69R",
"0b 6r 6N 13b 15r 21W 25W 27W 28S 30W 32W 33W 36W 37w",
"0b 4r 13N 18B 22W 23W 27W 29W 30w 31r 33S 35W 36w",
"0b 3W 5r 7W 17W 21W 23W 27w 29r 32W 34W 36W 38w",
"0w 3b 5r 17W 19w 21r 24W 26N 28N 32N 34N 36w",
"0w 1r 3b 5w 6r 9b 11r 17w 19r 24W 29N 33N 36w",
"0W 2W 3r 4B 6W 9B 15W 21W 24W 28r 33w 34r 38w",
"0r 1W 9B 12B 21W 24B 33W 34W 38w",
"0r 1W 6w 8r 14W 21N 24W 29W 30B 31r 38w 76R",
"0r 8W 9B 21w 23r 32W 35N 37w",
"0r 1W 3W 6W 13W 15B 26N 30w 32r 36w 71R",
"0r 1W 8W 26w 28r 32W 37w 72R",
"0r 5W 12w 14r 23W 27w 30r 36w 74R",
"0r 21W 22r 28W 29r 35w 70R"
];
const mapTriC = [
"0r 1W 8N 10W 11r 16W 19r 21s 40w",
"0r 5W 7w 11r 15w 18r 20W 21s 22w 26s 33w 35s 37w",
"0B 1r 3w 6r 7K 8w 9N 10W 12W 15r 20r 21s 23W 25W 28w 31s 35w 39S",
"0r 3b 4W 6r 8w 11r 13W 15W 16w 20s 26W 36w 38S 39w",
"0r 3b 6r 7W 9B 10W 12W 14W 20s 25W 27W 30W 32W 35W 38w",
"0r 3b 6r 9W 12K 13N 20W 21s 30W 33W 37w 39R",
"0r 1w 3r 4B 6W 12n 14r 16w 19r 22s 26W 32W 38W 39w 39R",
"0r 9w 13r 15W 22S 23w 23s 28W 31W 35w 38R 41R",
"0r 5w 7r 9C 10w 11C 13w 17r 20S 22w 25R 27W 30W 33w 35w 39R 42W",
"0r 1W 3W 9w 10c 12w 14C 15W 16r 23W 25w 27R 28S 31r 34w 35n 36w 38n 39w 40R 52R",
"0r 10w 11c 13w 14r 14C 16C 17W 21W 26S 28w 31r 35r 36n 41w",
"0w 2r 10W 11c 15r 15W 21W 26W 27W 32w 34r 35n 40W 42R 43w",
"0r 1W 5W 10w 11c 15r 15W 19W 21W 25W 27W 29W 33W 35n 42w 43n 46w 55R 81R",
"0r 5W 10w 13r 21W 25W 32S 33r 35n 40w 41n 43w 54R",
"0r 0W 5W 7W 9W 12W 27W 29W 31W 32B 33N 35n 40w 41N 42w 43N 44w 55r 57w",
"0r 1w 4r 5W 7W 9W 19W 31W 33K 36n 38W 40N 42N 43w",
"0w 2r 6W 9W 13W 16W 18N 20W 27w 29r 33N 35W 37n 39W 40n 42w",
"0r 10N 13N 19W 22w 25r 26W 27W 37W 38n 40n 41w 43r 45w",
"0r 0W 3W 7w 10r 11W 21w 23S 24w 26W 27W 29W 33w 36r 37w 39n 41w 43r 45w",
"0r 1W 3W 9W 11W 14W 16W 19W 23S 24W 27W 30W 31W 35W 38W 40w 45r 46w",
"0r 1W 5W 7w 10r 14W 16W 17W 19W 27W 32w 35r 37w 40r 46w 58R",
"0r 7w 9r 11W 15w 17r 23W 26W 30W 32N 34w 36r 37W 39W 41W 42r 44w",
"0r 7W 9S 12r 18W 21W 27W 29W 30K 33W 37N 38w",
"0r 1W 7W 9W 12w 14r 25W 33W 37w",
"0r 4N 7W 9W 12W 20W 26N 29W 36w 71r 72w",
"0r 1W 4b 6w 6r 8b 9W 10W 11b 13w 15r 16W 25w 29r 36w 70r 72w",
"0r 5W 7b 8W 9b 11w 12b 14w 14r 18W 20W 29W 32W 34W 37w 87r 89w",
"0r 6b 8w 9b 11w 13r 19w 21r 26W 29N 30W 36w",
"0r 4b 6w 7b 9W 10b 11r 14b 16r 19w 22r 28N 30w 33r 36w 87R",
"0r 1W 5W 6B 7B 9B 10B 11W 15W 23W 27N 36w 85R",
"0r 1W 5B 7B 8B 9B 10W 20W 36w",
"0w 3r 5b 9r 10B 11r 13W 15W 18W 30W 32W 34w 35r 36w",
"0r 8B 9B 10W 12N 13W 19W 23W 32N 34n 35w",
"0r 1W 5W 7W 20W 28w 30r 33N 35w",
"0r 34w",
"0r 1W 13W 15W 18w 21r 24W 26w 29r 30w 35w 80R 84R",
"0r 22W 24W 26W 28W 29W 34w"
];
const mapTetraC = [
"0r 6w 7r 10W 11r 12W 14r 15c 17w 18c 20w 21s 28w 29s 30W 31s 34w",
"0r 0W 6w 10r 11w 15r 16C 17w 24s 27w 30s 34w",
"0r 10W 12w 14r 16C 18w 19C 20w 22s 24w 25s 27w 29s 33w",
"0r 9w 11r 12W 16w 17C 18w 19C 20w 22s 24w 25s 27w 29s 33w 34S 35w",
"0r 1W 16w 19R 20w 21s 23w 24S 25w 33S 34w",
"0r 1W 3W 12w 18r 19w 23s 32w 34S",
"0r 3W 5w 7r 16w 21r 23w 24s 25w 26s 32w 33S 34w 35S",
"0r 4W 8W 12w 15r 18w 22r 23w 25s 26w 31s 32w 33S 34w 36s 37w",
"0r 6W 12w 15r 18W 20w 22r 23w 24s 28w 29s 33s 36w 37S",
"0w 2r 9W 15w 18r 21W 23W 25W 27r 28w 33S 34s 36w 36R",
"0r 6W 12W 18W 24W 27R 28w 29s 31w 32S 33s 35w",
"0r 1W 7W 9W 14w 18r 20w 23r 23w 25r 28s 31w 32N 34n 37w",
"0w 2r 7W 10W 18w 20r 24w 27r 29s 30w 30R 31N 33n 37w 36R 38R",
"0w 3r 5W 8W 12w 14r 20W 24W 26W 29w 33n 39w",
"0r 3W 5W 9w 11r 16W 19W 23W 25W 27w 28R 29n 35W 38w 38N 40R",
"0r 1W 6W 8w 11r 14W 16W 18w 22r 28w 30n 32w 33n 38w",
"0r 2w 4r 6W 14w 17r 21w 25r 29n 31w 32n 38w",
"0r 5W 7w 9r 10N 11W 16W 17w 22r 27N 28r 30n 32w 32N 33w 34N 35w",
"0r 4w 6r 9W 14W 16W 18w 22r 26W 28w 30N 32N 34N 43R",
"0r 1W 3W 6W 9w 11r 12N 14W 16w 19r 22W 25W 28w 29B 30n 32w 34N 44R",
"0r 1W 6W 8w 11r 14W 16W 18w 22r 27w 32N 34N 47R",
"0r 3W 9W 11W 13N 15W 20W 26N 28W 30w 31R 29R 34N 35w",
"0r 1W 7W 9W 13w 16r 21W 27W 29W 31W 33N 35w",
"0r 1W 5W 8w 11r 14K 15r 17W 21W 22N 24w 26r 30w 31r 34w 48R",
"0r 2W 5W 6W 7W 11W 14W 16W 22N 23W 28W 31W 36w",
"0w 3r 8W 12W 15W 22w 24r 28w 31r 34w",
"0r 3W 5W 9W 15W 18W 23W 25W 30W 34w 35R",
"0w 2r 7W 11W 13W 15w 18r 21W 25w 27W 30W 35w",
"0r 3w 5r 7W 10W 13W 16w 18r 21w 24r 26W 30w 32r 35w",
"0b 3W 4b 5w 7r 10w 14r 19W 21W 24w 27r 30W 33w",
"0b 2w 3b 4w 5r 7w 8r 11w 15r 17W 23w 25r 28S 30W 33w 48R",
"0b 1W 2b 3W 4r 6W 8W 12W 14w 16r 19w 23r 25w 26r 33w",
"0b 3W 5r 7W 9W 12W 16w 18r 20w 23r 27W 28w 30r 33w",
"0b 3w 5r 7w 9r 11W 13W 16W 18w 20r 22W 26w 27r 31w 40R",
"0b 3w 4r 8W 12W 15W 19W 22w 24r 26W 27W 28w 28R 30R",
"0w 2b 3r 5W 8W 10W 12W 16w 18r 20W 22W 25r 27w 28S 29S",
"0r 2w 4r 9W 14W 17w 19r 26w 28S",
"0r 1W 3W 4B 5W 7W 12W 15W 17w 19r 22w",
"0w 2r 3w 6r 9W 12W 14w 17r 21w",
"0b 2w 3B 4w 6r 9W 13w 15r 21w",
"0w 3r 5W 9W 12w 14r 20w",
"0r 2B 3b 5r 8W 11w 13r 15w 17r 19w",
"0r 1w 3r 6W 9w 12r 15W 16r 19W 20w",
"0r 3K 4n 6w 7r 9w 11r 13W 15w 16W 17r 18r 19W 20w",
"0S 1r 3n 5r 8w 9r 12W 15w 16W 18r 19S 20w",
"0r 2S 3r 6W 9w 10r 15W 16r 19R 20w",
"0r 2S 3r 6W 7r 8W 10W 15W 16r 20w",
"0r 3w 4r 6W 7r 10W 13W 15w 16w 17r 19r 20w",
"0r 3w 4r 5w 7r 10w 12r 15w 17r 20w 50R 54R 62R 65R"
];

const mapLabels = ['Di', 'Tri', 'Tetra', 'Human subtype', 'Avian subtype'];
const rowLetters = ['A', 'B', 'C'];

const cellColors = {
    r: '#ff0000', g: '#00ff00', b: '#0000ff', k: '#000000', y: '#ffff00', c: '#00ffff',
    s: '#c0c0c0', n: '#996633', d: '#006000', m: '#ff80ff', p: '#8000ff'
};

// turn the run strings of one map into {colour: [{x, y}]}
function decodeRows(rows, cols) {
    const points = {};
    rows.forEach((row, y) => {
        const cells = new Array(cols).fill('w');
        const tokens = row.split(' ').map(t => ({ col: parseInt(t), ch: t[t.length - 1] }));
        const runs = tokens.filter(t => t.ch === t.ch.toLowerCase()).sort((a, b) => a.col - b.col);
        runs.forEach((t, i) => {
            const end = i + 1 < runs.length ? runs[i + 1].col : cols;
            for (let c = t.col; c < end && c < cols; c++) cells[c] = t.ch;
        });
        tokens.filter(t => t.ch !== t.ch.toLowerCase()).forEach(t => {
            if (t.col < cols) cells[t.col] = t.ch.toLowerCase();
        });
        cells.forEach((ch, x) => {
            if (ch === 'w') return;
            if (!points[ch]) points[ch] = [];
            points[ch].push({ x: x + 0.5, y: y + 0.5 });
        });
    });
    return points;
}

function cellImage(color, w, h) {
    const c = document.createElement('canvas');
    c.width = w;
    c.height = h;
    const ctx = c.getContext('2d');
    ctx.fillStyle = color;
    ctx.fillRect(0, 0, w, h);
    return c;
}

function drawMap(rows, cols, left, top, width, height) {
    const box = document.createElement('div');
    box.className = 'map';
    box.style.cssText = `left:${left}px;top:${top}px;width:${width}px;height:${height}px`;
    const canvas = document.createElement('canvas');
    const innerW = width - 10, innerH = height - 10;
    canvas.width = innerW;
    canvas.height = innerH;
    box.appendChild(canvas);
    document.getElementById('page').appendChild(box);

    const points = decodeRows(rows, cols);
    const cw = Math.ceil(innerW / cols), ch = Math.ceil(innerH / rows.length);
    const datasets = Object.keys(points).map(k => ({
        data: points[k],
        pointStyle: cellImage(cellColors[k], cw, ch),
        pointRadius: 4,
        showLine: false
    }));
    new Chart(canvas, {
        type: 'scatter',
        data: { datasets },
        options: {
            responsive: false,
            animation: false,
            events: [],
            layout: { padding: 0, autoPadding: false },
            plugins: { legend: { display: false }, tooltip: { enabled: false } },
            scales: {
                x: { type: 'linear', min: 0, max: cols, display: false },
                y: { type: 'linear', min: 0, max: rows.length, reverse: true, display: false }
            }
        }
    });
}

function addLabel(text, cls, left, top) {
    const d = document.createElement('div');
    d.className = 'label ' + cls;
    d.textContent = text;
    d.style.left = left + 'px';
    d.style.top = top + 'px';
    document.getElementById('page').appendChild(d);
}

drawMap(mapDiA, 104, 6, 135, 950, 480);
drawMap(mapTriA, 100, 983, 135, 952, 480);
drawMap(mapTetraA, 74, 1971, 135, 952, 480);
drawMap(mapDiB, 104, 3, 823, 953, 481);
drawMap(mapTriB, 100, 983, 823, 952, 481);
drawMap(mapTetraB, 74, 1971, 823, 952, 481);
drawMap(mapDiC, 104, 3, 1491, 953, 479);
drawMap(mapTriC, 100, 983, 1491, 952, 479);
drawMap(mapTetraC, 74, 1971, 1491, 952, 479);

addLabel(rowLetters[0], 'letter', 36, 30);
addLabel(rowLetters[1], 'letter', 36, 713);
addLabel(rowLetters[2], 'letter', 36, 1380);
addLabel(mapLabels[0], 'title', 430, 24);
addLabel(mapLabels[1], 'title', 1405, 24);
addLabel(mapLabels[2], 'title', 2352, 24);
addLabel(mapLabels[3], 'subtitle', 370, 713);
addLabel(mapLabels[4], 'subtitle', 412, 1363);
</script>
</body>
</html>
